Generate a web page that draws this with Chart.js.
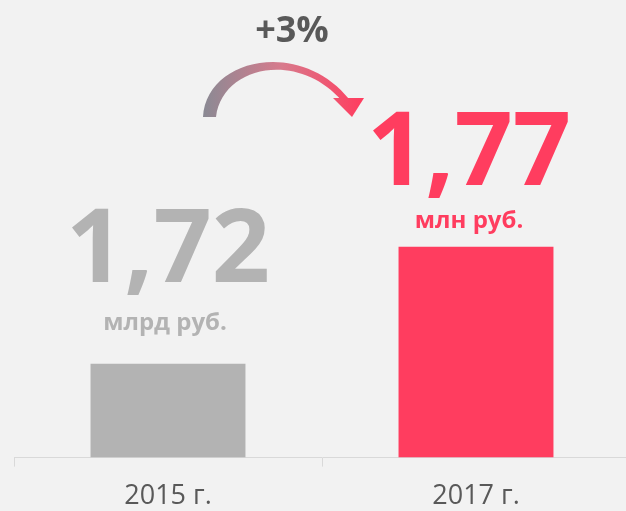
<!DOCTYPE html>
<html>
<head>
<meta charset="utf-8">
<script src="https://cdn.jsdelivr.net/npm/chart.js@4/dist/chart.umd.min.js"></script>
<style>
html,body{margin:0;padding:0;background:#f2f2f2;overflow:hidden;}
#wrap{width:630px;height:511px;position:relative;}
</style>
</head>
<body>
<div id="wrap"><canvas id="c" width="630" height="511"></canvas></div>
<script>
const categories = ["2015 г.", "2017 г."];
const barValues = [20.5, 46.1];
const bigLabels = ["1,72", "1,77"];
const unitLabels = ["млрд руб.", "млн руб."];
const changeLabel = "+3%";
const barColors = ["#b3b3b3", "#ff3d5f"];

const labelStyle = [
  {big: 82, unit: 34, dxBig: 0, dxUnit: -3},
  {big: 62, unit: 19, dxBig: -7, dxUnit: -7}
];

const overlay = {
  id: 'overlay',
  afterDatasetsDraw(chart) {
    const ctx = chart.ctx;
    const meta = chart.getDatasetMeta(0);
    ctx.save();
    ctx.textAlign = 'center';
    ctx.textBaseline = 'alphabetic';
    meta.data.forEach((bar, i) => {
      const s = labelStyle[i];
      ctx.fillStyle = barColors[i];
      ctx.font = 'bold 102px "Open Sans"';
      ctx.fillText(bigLabels[i], bar.x + s.dxBig, bar.y - s.big);
      ctx.font = 'bold 24px "Open Sans"';
      ctx.fillText(unitLabels[i], bar.x + s.dxUnit, bar.y - s.unit);
    });
    const mid = (meta.data[0].x + meta.data[1].x) / 2;
    ctx.fillStyle = '#595959';
    ctx.font = 'bold 36px "Open Sans"';
    ctx.fillText(changeLabel, mid - 30, 42);
    const g = ctx.createLinearGradient(203, 0, 362, 0);
    g.addColorStop(0, '#8a8a94');
    g.addColorStop(0.5, '#d87a8c');
    g.addColorStop(1, '#ff3d5f');
    ctx.fillStyle = g;
    ctx.beginPath();
    ctx.moveTo(203, 117);
    ctx.bezierCurveTo(206, 58, 300, 38, 349, 99);
    ctx.lineTo(342, 101);
    ctx.bezierCurveTo(298, 50, 222, 66, 216, 117);
    ctx.closePath();
    ctx.fill();
    ctx.beginPath();
    ctx.moveTo(333, 98);
    ctx.lineTo(364, 98);
    ctx.lineTo(352, 117);
    ctx.closePath();
    ctx.fill();
    ctx.restore();
  }
};

new Chart(document.getElementById('c'), {
  type: 'bar',
  data: {
    labels: categories,
    datasets: [{
      data: barValues,
      backgroundColor: barColors,
      barPercentage: 0.503,
      categoryPercentage: 1.0
    }]
  },
  options: {
    responsive: false,
    animation: false,
    layout: {padding: {left: 14, right: 0, top: 0, bottom: -16}},
    plugins: {legend: {display: false}, tooltip: {enabled: false}},
    scales: {
      x: {
        grid: {display: true, drawOnChartArea: false, offset: true, color: '#d9d9d9', tickLength: 9, lineWidth: 1},
        border: {display: true, color: '#d9d9d9', width: 1},
        ticks: {color: '#595959', font: {family: '"Open Sans"', size: 27}, padding: 14}
      },
      y: {display: false, min: 0, max: 100}
    }
  },
  plugins: [overlay]
});
</script>
</body>
</html>
